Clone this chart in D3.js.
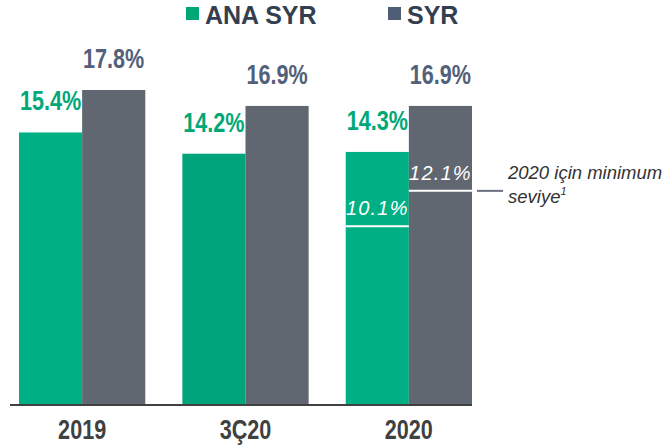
<!DOCTYPE html>
<html>
<head>
<meta charset="utf-8">
<script src="https://cdn.jsdelivr.net/npm/d3@7"></script>
<style>
  body { margin: 0; background: #fff; }
  .narrow { font-family: 'Liberation Sans', Arial, sans-serif; font-weight: bold; }
</style>
</head>
<body>
<svg id="chart"></svg>
<script>
// data
const categories = ['2019', '3Ç20', '2020'];
const series = ['ANA SYR', 'SYR'];
const anaSyr = [15.4, 14.2, 14.3];
const syr = [17.8, 16.9, 16.9];
const minLevels = [10.1, 12.1]; // 2020 minimum: ANA SYR, SYR
const noteLines = ['2020 için minimum', 'seviye'];

const greenShades = ['#00B084', '#00A47A', '#00B084'];
const grey = '#606770';
const squeeze = 0.8; // fake a narrow font

const width = 662, height = 447;
const svg = d3.select('#chart').attr('width', width).attr('height', height);

const x = d3.scaleBand().domain(categories).range([19, 472]).paddingInner(0.227).paddingOuter(0);
const xSub = d3.scaleBand().domain(series).range([0, x.bandwidth()]);
const y = d3.scaleLinear().domain([0, 17.8]).range([405, 90]);

const rows = categories.map((c, i) => ({ cat: c, i: i, vals: [anaSyr[i], syr[i]] }));

// bars
const groups = svg.selectAll('.grp').data(rows).join('g')
  .attr('class', 'grp')
  .attr('transform', d => `translate(${x(d.cat)},0)`);

groups.selectAll('rect').data(d => d.vals.map((v, k) => ({ v, s: series[k], i: d.i })))
  .join('rect')
  .attr('x', d => xSub(d.s))
  .attr('width', xSub.bandwidth())
  .attr('y', d => y(d.v))
  .attr('height', d => y(0) - y(d.v))
  .attr('fill', d => d.s === 'SYR' ? grey : greenShades[d.i]);

groups.selectAll('g.val').data(d => d.vals.map((v, k) => ({ v, s: series[k] })))
  .join('g')
  .attr('class', 'val')
  .attr('transform', d => `translate(${xSub(d.s) + xSub.bandwidth() / 2},${y(d.v) - 22}) scale(${squeeze},1)`)
  .append('text')
  .attr('class', 'narrow')
  .attr('text-anchor', 'middle')
  .attr('font-size', 27)
  .attr('fill', d => d.s === 'SYR' ? '#526079' : '#00A878')
  .text(d => d.v.toFixed(1) + '%');

// axis baseline
svg.append('line')
  .attr('x1', 10).attr('x2', 472)
  .attr('y1', y(0)).attr('y2', y(0))
  .attr('stroke', '#404040').attr('stroke-width', 2);

// category labels
svg.selectAll('g.cat').data(categories).join('g')
  .attr('class', 'cat')
  .attr('transform', d => `translate(${x(d) + x.bandwidth() / 2},439) scale(${squeeze},1)`)
  .append('text')
  .attr('class', 'narrow')
  .attr('text-anchor', 'middle')
  .attr('font-size', 27)
  .attr('fill', '#404040')
  .text(d => d);

// minimum levels for 2020
const last = categories[2];
minLevels.forEach((v, k) => {
  const x0 = x(last) + xSub(series[k]);
  svg.append('line')
    .attr('x1', x0).attr('x2', x0 + xSub.bandwidth())
    .attr('y1', y(v)).attr('y2', y(v))
    .attr('stroke', '#fff').attr('stroke-width', 2);
  svg.append('text')
    .attr('x', x0 + xSub.bandwidth() / 2)
    .attr('y', y(v) - 11)
    .attr('text-anchor', 'middle')
    .attr('font-family', 'Liberation Sans, Arial, sans-serif')
    .attr('font-style', 'italic')
    .attr('font-size', 20)
    .attr('letter-spacing', 1.2)
    .attr('fill', '#fff')
    .text(v.toFixed(1) + '%');
});

// note
svg.append('line')
  .attr('x1', 477).attr('x2', 503)
  .attr('y1', y(minLevels[1])).attr('y2', y(minLevels[1]))
  .attr('stroke', '#6A7280').attr('stroke-width', 2);

const note = svg.append('text')
  .attr('x', 508)
  .attr('font-family', 'Liberation Sans, Arial, sans-serif')
  .attr('font-style', 'italic')
  .attr('font-size', 18.5)
  .attr('fill', '#333');
note.append('tspan').attr('x', 508).attr('y', 179).text(noteLines[0]);
note.append('tspan').attr('x', 508).attr('y', 203).text(noteLines[1]);
note.append('tspan').attr('font-size', 11).attr('dy', -8).text('1');

// legend
const legend = svg.append('g');
const legendX = [186, 388];
const legendFill = ['#00A878', '#4F5D75'];
series.forEach((s, k) => {
  legend.append('rect')
    .attr('x', legendX[k]).attr('y', 7)
    .attr('width', 13).attr('height', 13)
    .attr('fill', legendFill[k]);
  legend.append('text')
    .attr('x', legendX[k] + 19).attr('y', 24)
    .attr('font-family', 'Liberation Sans, Arial, sans-serif')
    .attr('font-weight', 'bold')
    .attr('font-size', 25)
    .attr('fill', '#333F50')
    .text(s);
});
</script>
</body>
</html>
